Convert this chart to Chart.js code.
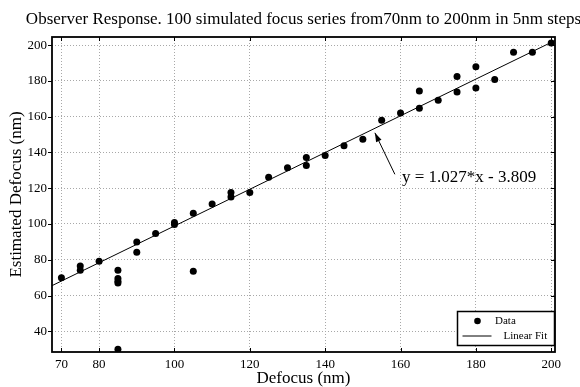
<!DOCTYPE html>
<html><head><meta charset="utf-8">
<script src="https://cdn.jsdelivr.net/npm/chart.js@4.4.0/dist/chart.umd.min.js"></script>
<style>html,body{margin:0;padding:0;background:#fff;overflow:hidden;}</style>
</head><body>
<canvas id="c" width="580" height="387" style="display:block;width:580px;height:387px"></canvas>
<script>
const defocusX   = [70,75,75,80,85,85,85,85,85,90,90,95,100,100,105,105,110,115,115,120,125,130,135,135,140,145,150,155,160,165,165,170,175,175,180,180,185,190,195,200];
const estimatedY = [70,76.5,74.1,79.2,74.1,69.5,68,67,30,90,84.2,94.7,100.8,99.7,106,73.6,111.2,117.6,115.1,117.6,126.2,131.4,137.2,132.7,138.3,143.7,147.4,158,162.1,164.8,174.4,169.2,173.9,182.5,187.9,176.1,180.8,196.1,196.1,201.3];
const xTicks = [70,80,100,120,140,160,180,200];
const yTicks = [40,60,80,100,120,140,160,180,200];
const fitSlope = 1.027, fitIntercept = -3.809;
const fitRangeX = [67.5, 201];
const xLimits = [67.5, 201];
const yLimits = [28.4, 204.6];
const titleText = 'Observer Response. 100 simulated focus series from70nm to 200nm in 5nm steps';
const fitLabel = 'y = 1.027*x - 3.809';
const arrowTip = {x:153.2, y:151};
const arrowTail = {x:158.5, y:127.8};
const labelPos = {x:160.4, y:123.5};

const SERIF = "'Liberation Serif','Times New Roman',serif";
const points = defocusX.map((x,i)=>({x, y: estimatedY[i]}));
const fitData = fitRangeX.map(x=>({x, y: fitSlope*x + fitIntercept}));

const decor = {
  id:'decor',
  afterDraw(chart){
    const {ctx, chartArea:a, scales:{x, y}} = chart;
    ctx.save();
    // title
    ctx.fillStyle = '#000';
    ctx.font = '17px ' + SERIF;
    ctx.textAlign = 'center';
    ctx.textBaseline = 'alphabetic';
    ctx.fillText(titleText, (a.left + a.right)/2, 24);
    // box
    ctx.strokeStyle = '#000';
    ctx.lineWidth = 1.8;
    ctx.strokeRect(a.left, a.top, a.right - a.left, a.bottom - a.top);
    // ticks
    ctx.lineWidth = 1;
    ctx.beginPath();
    xTicks.forEach(v=>{
      const px = Math.round(x.getPixelForValue(v)) + 0.5;
      ctx.moveTo(px, a.bottom); ctx.lineTo(px, a.bottom - 4);
      ctx.moveTo(px, a.top); ctx.lineTo(px, a.top + 4);
    });
    yTicks.forEach(v=>{
      const py = Math.round(y.getPixelForValue(v)) + 0.5;
      ctx.moveTo(a.left - 4, py); ctx.lineTo(a.left, py);
      ctx.moveTo(a.right, py); ctx.lineTo(a.right - 4, py);
    });
    ctx.stroke();
    // arrow
    const tx = x.getPixelForValue(arrowTip.x), ty = y.getPixelForValue(arrowTip.y);
    const sx = x.getPixelForValue(arrowTail.x), sy = y.getPixelForValue(arrowTail.y);
    ctx.lineWidth = 1;
    ctx.beginPath(); ctx.moveTo(sx, sy); ctx.lineTo(tx, ty); ctx.stroke();
    const ang = Math.atan2(ty - sy, tx - sx);
    const hl = 9, hw = 3;
    ctx.beginPath();
    ctx.moveTo(tx, ty);
    ctx.lineTo(tx - hl*Math.cos(ang) + hw*Math.sin(ang), ty - hl*Math.sin(ang) - hw*Math.cos(ang));
    ctx.lineTo(tx - hl*Math.cos(ang) - hw*Math.sin(ang), ty - hl*Math.sin(ang) + hw*Math.cos(ang));
    ctx.closePath(); ctx.fill();
    // label
    ctx.font = '17px ' + SERIF;
    ctx.textAlign = 'left';
    ctx.fillText(fitLabel, x.getPixelForValue(labelPos.x), y.getPixelForValue(labelPos.y));
    // legend
    const lx = 457.5, ly = 311.5, lw = 97, lh = 34;
    ctx.fillStyle = '#fff';
    ctx.fillRect(lx, ly, lw, lh);
    ctx.strokeStyle = '#000';
    ctx.lineWidth = 1.5;
    ctx.strokeRect(lx, ly, lw, lh);
    ctx.fillStyle = '#000';
    ctx.beginPath(); ctx.arc(lx + 20, ly + 9.5, 3.3, 0, Math.PI*2); ctx.fill();
    ctx.lineWidth = 1;
    ctx.beginPath(); ctx.moveTo(lx + 5, ly + 24.5); ctx.lineTo(lx + 34, ly + 24.5); ctx.stroke();
    ctx.font = '11px ' + SERIF;
    ctx.textBaseline = 'middle';
    ctx.fillText('Data', lx + 37.5, ly + 9.5);
    ctx.fillText('Linear Fit', lx + 46, ly + 24.5);
    ctx.restore();
  }
};

new Chart(document.getElementById('c'), {
  type: 'scatter',
  data: {
    datasets: [
      {label:'Data', data: points, pointRadius:3.5, pointHoverRadius:3.5, backgroundColor:'#000', borderColor:'#000', pointBorderWidth:0, order:1},
      {label:'Linear Fit', type:'line', data: fitData, borderColor:'#000', borderWidth:1, pointRadius:0, fill:false, order:2}
    ]
  },
  options: {
    responsive:false, animation:false, devicePixelRatio:1,
    layout:{padding:{top:37, right:25, left:0, bottom:0}},
    plugins:{legend:{display:false}, title:{display:false}, tooltip:{enabled:false}},
    events:[],
    scales:{
      x:{
        type:'linear', min:xLimits[0], max:xLimits[1],
        afterBuildTicks: s => { s.ticks = xTicks.map(v=>({value:v})); },
        afterFit: s => { s.height = 35; },
        grid:{color:'#a8a8a8', lineWidth:1, drawTicks:false},
        border:{display:false, dash:[1,2]},
        ticks:{padding:5, color:'#000', font:{family:SERIF, size:13}, autoSkip:false, maxRotation:0},
        title:{display:true, text:'Defocus (nm)', color:'#000', font:{family:SERIF, size:17, lineHeight:1}, padding:0}
      },
      y:{
        type:'linear', min:yLimits[0], max:yLimits[1],
        afterBuildTicks: s => { s.ticks = yTicks.map(v=>({value:v})); },
        afterFit: s => { s.width = 52; },
        grid:{color:'#a8a8a8', lineWidth:1, drawTicks:false},
        border:{display:false, dash:[1,2]},
        ticks:{padding:5, color:'#000', font:{family:SERIF, size:13}, autoSkip:false},
        title:{display:true, text:'Estimated Defocus (nm)', color:'#000', font:{family:SERIF, size:17, lineHeight:1}, padding:{top:8, bottom:0}}
      }
    }
  },
  plugins:[decor]
});
</script>
</body></html>
